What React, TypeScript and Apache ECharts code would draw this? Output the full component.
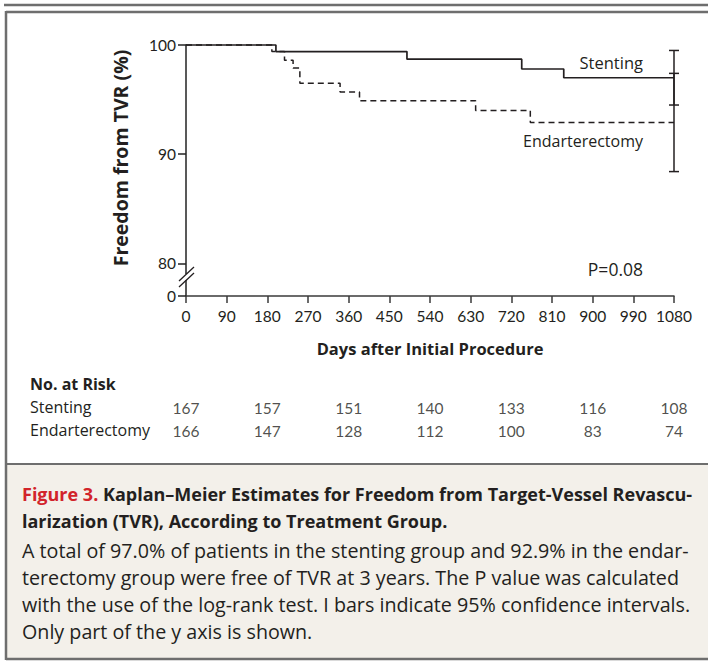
import React, { useEffect, useRef } from "react";
import * as echarts from "echarts";

// ---- Data ----
const stentDays = [0, 199, 489, 743, 836, 1080];
const stentSurv = [100, 99.4, 98.7, 97.8, 97.0, 97.0];
const endDays = [0, 190, 218, 237, 252, 341, 384, 641, 762, 1080];
const endSurv = [100, 99.4, 98.6, 97.9, 96.5, 95.7, 94.9, 94.0, 92.9, 92.9];
const ciDay = 1080;
const ciStent = [94.5, 99.5];
const ciEnd = [88.4, 97.4];
const yTickValues = [77, 80, 90, 100];
const yTickLabels = ["0", "80", "90", "100"];
const riskDays = [0, 180, 360, 540, 720, 900, 1080];
const riskGroups = ["Stenting", "Endarterectomy"];
const riskStent = [167, 157, 151, 140, 133, 116, 108];
const riskEnd = [166, 147, 128, 112, 100, 83, 74];

const FONT = "Open Sans";
const NUMFONT = "Lato";
const INK = "#231f20";
const FRAME = "#6e6e6e";

function txt(text: string, x: number, y: number, opts: any = {}) {
  const align = opts.align || "left";
  const valign = opts.valign || "middle";
  return {
    type: "text",
    x,
    y,
    rotation: opts.rotation || 0,
    z: 100,
    style: {
      text,
      fill: opts.fill || INK,
      fontFamily: opts.family || FONT,
      fontSize: opts.size || 16,
      fontWeight: opts.weight || "normal",
      align,
      verticalAlign: valign,
      textAlign: align,
      textVerticalAlign: valign,
      rich: opts.rich,
    },
  };
}

function line(x1: number, y1: number, x2: number, y2: number, stroke: string, w: number) {
  return { type: "line", z: 100, shape: { x1, y1, x2, y2 }, style: { stroke, lineWidth: w } };
}

export default function App() {
  const ref = useRef<HTMLDivElement>(null);
  useEffect(() => {
    const chart = echarts.init(ref.current!, null, { renderer: "svg" });
    const capStyle = { stroke: INK, lineWidth: 1.5 };
    const option: any = {
      animation: false,
      backgroundColor: "#ffffff",
      grid: [
        { left: 186, right: 34, top: 45, bottom: 367 },
        { left: 186, right: 34, top: 396, height: 46 },
      ],
      xAxis: [
        {
          type: "value",
          gridIndex: 0,
          min: 0,
          max: 1080,
          interval: 90,
          name: "Days after Initial Procedure",
          nameLocation: "middle",
          nameGap: 44,
          nameTextStyle: { fontFamily: FONT, fontSize: 16.5, fontWeight: "bold", color: INK },
          axisLine: { lineStyle: { color: "#3a3a3a", width: 1.5 } },
          axisTick: { length: 7, lineStyle: { color: "#3a3a3a", width: 1.5 } },
          axisLabel: {
            fontFamily: NUMFONT,
            fontSize: 15.5,
            color: INK,
            margin: 12,
            formatter: (v: number) => String(v),
          },
          splitLine: { show: false },
        },
        { type: "value", gridIndex: 1, min: 0, max: 1080, show: false },
      ],
      yAxis: [
        {
          type: "value",
          gridIndex: 0,
          min: 77,
          max: 100,
          axisLine: { show: true, lineStyle: { color: "#222", width: 1.5 } },
          axisTick: {
            show: true,
            length: 8,
            customValues: yTickValues,
            lineStyle: { color: "#222", width: 1.5 },
          },
          axisLabel: {
            fontFamily: NUMFONT,
            fontSize: 15.5,
            color: INK,
            margin: 10,
            customValues: yTickValues,
            formatter: (v: number) => yTickLabels[yTickValues.indexOf(v)] ?? "",
          },
          splitLine: { show: false },
        },
        {
          type: "category",
          gridIndex: 1,
          data: riskGroups,
          inverse: true,
          show: false,
        },
      ],
      series: [
        {
          name: "Endarterectomy",
          type: "line",
          step: "end",
          symbol: "none",
          clip: false,
          data: endDays.map((d, i) => [d, endSurv[i]]),
          lineStyle: { color: INK, width: 1.5, type: [6, 4] },
          z: 3,
          silent: true,
        },
        {
          name: "Stenting",
          type: "line",
          step: "end",
          symbol: "none",
          clip: false,
          data: stentDays.map((d, i) => [d, stentSurv[i]]),
          lineStyle: { color: INK, width: 1.7, type: "solid" },
          z: 4,
          silent: true,
        },
        {
          type: "custom",
          clip: false,
          silent: true,
          z: 5,
          data: [
            [ciDay, ciStent[0], ciStent[1]],
            [ciDay, ciEnd[0], ciEnd[1]],
          ],
          encode: { x: 0, y: [1, 2] },
          renderItem: (params: any, api: any) => {
            const x = api.value(0);
            const lo = api.coord([x, api.value(1)]);
            const hi = api.coord([x, api.value(2)]);
            const w = 5;
            return {
              type: "group",
              children: [
                { type: "line", shape: { x1: lo[0], y1: lo[1], x2: hi[0], y2: hi[1] }, style: capStyle },
                { type: "line", shape: { x1: lo[0] - w, y1: lo[1], x2: lo[0] + w, y2: lo[1] }, style: capStyle },
                { type: "line", shape: { x1: hi[0] - w, y1: hi[1], x2: hi[0] + w, y2: hi[1] }, style: capStyle },
              ],
            };
          },
        },
        {
          type: "scatter",
          xAxisIndex: 1,
          yAxisIndex: 1,
          silent: true,
          symbolSize: 1,
          itemStyle: { color: "rgba(0,0,0,0)" },
          data: [
            ...riskStent.map((n, i) => [riskDays[i], riskGroups[0], n]),
            ...riskEnd.map((n, i) => [riskDays[i], riskGroups[1], n]),
          ],
          label: {
            show: true,
            position: "inside",
            formatter: (p: any) => String(p.value[2]),
            fontFamily: NUMFONT,
            fontSize: 15.5,
            color: INK,
          },
        },
      ],
      graphic: [
        // outer frame
        line(4, 5, 708, 5, FRAME, 2.5),
        line(6, 12, 708, 12, FRAME, 2.5),
        line(6, 11, 6, 660, FRAME, 2.5),
        { type: "rect", z: 90, shape: { x: 7, y: 464, width: 702, height: 195 }, style: { fill: "#f3f0ea" } },
        line(6, 464, 708, 464, FRAME, 2),
        line(6, 659, 708, 659, FRAME, 2.5),
        // axis break
        { type: "rect", z: 99, shape: { x: 183, y: 274, width: 6, height: 6 }, style: { fill: "#ffffff" } },
        line(179, 281, 194, 267, INK, 1.3),
        line(179, 287, 194, 273, INK, 1.3),
        // annotations
        txt("Stenting", 643, 62, { align: "right", size: 16.5 }),
        txt("Endarterectomy", 643, 141, { align: "right", size: 16 }),
        txt("P=0.08", 643, 269, { align: "right", size: 17.5 }),
        txt("Freedom from TVR (%)", 120, 158, { align: "center", size: 19.5, weight: "bold", rotation: Math.PI / 2 }),
        // risk table labels
        txt("No. at Risk", 30, 384, { size: 16, weight: "bold" }),
        txt(riskGroups[0], 30, 407, { size: 16 }),
        txt(riskGroups[1], 30, 430, { size: 16 }),
        // caption
        txt("{r|Figure 3.} Kaplan–Meier Estimates for Freedom from Target-Vessel Revascu-", 22, 494, {
          size: 18,
          weight: "bold",
          rich: { r: { fill: "#d2232a", color: "#d2232a", fontFamily: FONT, fontSize: 18, fontWeight: "bold" } },
        }),
        txt("larization (TVR), According to Treatment Group.", 22, 521, { size: 18, weight: "bold" }),
        txt("A total of 97.0% of patients in the stenting group and 92.9% in the endar-", 22, 550, { size: 19.7 }),
        txt("terectomy group were free of TVR at 3 years. The P value was calculated", 22, 577, { size: 19.7 }),
        txt("with the use of the log-rank test. I bars indicate 95% confidence intervals.", 22, 604, { size: 19.7 }),
        txt("Only part of the y axis is shown.", 22, 631, { size: 19.7 }),
      ],
    };
    chart.setOption(option);
    return () => chart.dispose();
  }, []);
  return (
    <div
      ref={ref}
      style={{ position: "absolute", left: 0, top: 0, width: 708, height: 663 }}
    />
  );
}
